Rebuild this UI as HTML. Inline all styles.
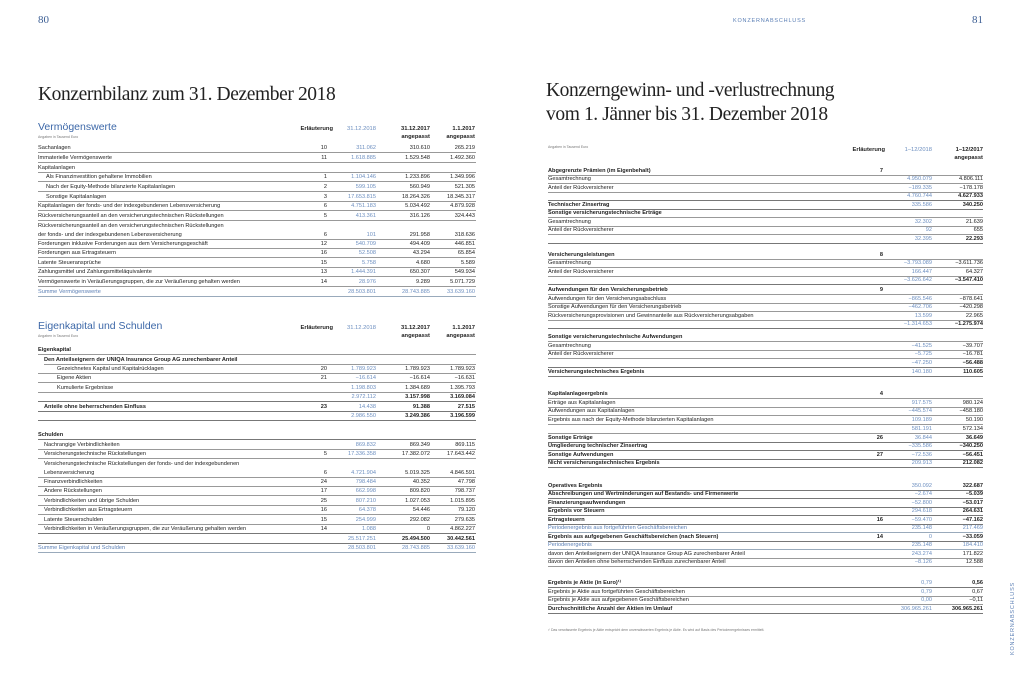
<!DOCTYPE html>
<html><head><meta charset="utf-8">
<style>
*{margin:0;padding:0;box-sizing:border-box}
body{width:1024px;height:686px;background:#fff;position:relative;overflow:hidden;font-family:"Liberation Sans",sans-serif;color:#222}
.abs{position:absolute;white-space:nowrap}
.pn{font-family:"Liberation Serif",serif;font-size:11px;color:#3d5f94}
.ttl{font-family:"Liberation Serif",serif;font-size:19.5px;color:#222;letter-spacing:-0.4px}
.r{position:absolute;height:9px;line-height:9px;font-size:5.6px;border-bottom:0.6px solid #999;white-space:nowrap}
.L .r{left:38px;width:438px}
.R .r{left:548px;width:435px}
.r span{position:absolute;top:0}
.L .l{left:0}.L .e{right:149px}.L .a{right:100px;color:#6d8fc0}.L .b{right:46px}.L .c{right:1px}
.R .l{left:0}.R .e{right:100px}.R .a{right:51px;color:#6d8fc0}.R .b{right:0}
.bd{font-weight:bold}
.th{border-bottom:1.2px solid #777}
.nb{border-bottom:none}
.i1 .l{left:8px}.i2 .l{left:12px}
.bl .l{color:#5b7fb5}
.bl{border-bottom:1px solid #9ab}
.hd{font-size:5.8px;font-weight:bold;position:absolute;text-align:right;line-height:8px;white-space:nowrap}
.sec{font-size:10.5px;color:#3d68a8;position:absolute}
.sm{font-size:3.5px;color:#777;position:absolute}
</style></head><body>
<div class="abs pn" style="left:38px;top:14px">80</div>
<div class="abs pn" style="left:972px;top:14px">81</div>
<div class="abs" style="left:733px;top:18px;font-size:5.5px;letter-spacing:0.8px;color:#5b7fb5">KONZERNABSCHLUSS</div>
<div class="abs" style="left:1010px;top:655px;transform:rotate(-90deg);transform-origin:0 0;font-size:5.5px;letter-spacing:0.8px;color:#5b7fb5">KONZERNABSCHLUSS</div>
<div class="abs ttl" style="left:38px;top:84px">Konzernbilanz zum 31. Dezember 2018</div>
<div class="abs ttl" style="left:546px;top:80px">Konzerngewinn- und -verlustrechnung</div>
<div class="abs ttl" style="left:546px;top:104px">vom 1. Jänner bis 31. Dezember 2018</div>

<div class="L">
<div class="sec" style="left:38px;top:121px">Vermögenswerte</div>
<div class="sm" style="left:38px;top:135px">Angaben in Tausend Euro</div>
<div class="hd" style="left:290px;top:125px;width:43px">Erläuterung</div>
<div class="hd" style="left:330px;top:125px;width:46px;color:#6d8fc0;font-weight:normal">31.12.2018</div>
<div class="hd" style="left:380px;top:125px;width:50px">31.12.2017<br>angepasst</div>
<div class="hd" style="left:430px;top:125px;width:45px">1.1.2017<br>angepasst</div>
<div class="r th nb" style="top:140px;height:4px"></div>
<div class="r" style="top:144px"><span class="l">Sachanlagen</span><span class="e">10</span><span class="a">311.062</span><span class="b">310.610</span><span class="c">265.219</span></div>
<div class="r" style="top:154px"><span class="l">Immaterielle Vermögenswerte</span><span class="e">11</span><span class="a">1.618.885</span><span class="b">1.529.548</span><span class="c">1.492.360</span></div>
<div class="r" style="top:164px"><span class="l">Kapitalanlagen</span></div>
<div class="r i1" style="top:173px"><span class="l">Als Finanzinvestition gehaltene Immobilien</span><span class="e">1</span><span class="a">1.104.146</span><span class="b">1.233.896</span><span class="c">1.349.996</span></div>
<div class="r i1" style="top:183px"><span class="l">Nach der Equity-Methode bilanzierte Kapitalanlagen</span><span class="e">2</span><span class="a">599.105</span><span class="b">560.949</span><span class="c">521.305</span></div>
<div class="r i1" style="top:193px"><span class="l">Sonstige Kapitalanlagen</span><span class="e">3</span><span class="a">17.653.815</span><span class="b">18.264.326</span><span class="c">18.345.317</span></div>
<div class="r" style="top:202px"><span class="l">Kapitalanlagen der fonds- und der indexgebundenen Lebensversicherung</span><span class="e">6</span><span class="a">4.751.183</span><span class="b">5.034.492</span><span class="c">4.879.928</span></div>
<div class="r" style="top:212px"><span class="l">Rückversicherungsanteil an den versicherungstechnischen Rückstellungen</span><span class="e">5</span><span class="a">413.361</span><span class="b">316.126</span><span class="c">324.443</span></div>
<div class="r" style="top:222px;height:18px"><span class="l" style="line-height:8.5px">Rückversicherungsanteil an den versicherungstechnischen Rückstellungen<br>der fonds- und der indexgebundenen Lebensversicherung</span><span class="e" style="top:9px">6</span><span class="a" style="top:9px">101</span><span class="b" style="top:9px">291.958</span><span class="c" style="top:9px">318.636</span></div>
<div class="r" style="top:240px"><span class="l">Forderungen inklusive Forderungen aus dem Versicherungsgeschäft</span><span class="e">12</span><span class="a">540.709</span><span class="b">494.409</span><span class="c">446.851</span></div>
<div class="r" style="top:249px"><span class="l">Forderungen aus Ertragsteuern</span><span class="e">16</span><span class="a">52.508</span><span class="b">43.294</span><span class="c">65.854</span></div>
<div class="r" style="top:259px"><span class="l">Latente Steueransprüche</span><span class="e">15</span><span class="a">5.758</span><span class="b">4.680</span><span class="c">5.589</span></div>
<div class="r" style="top:268px"><span class="l">Zahlungsmittel und Zahlungsmitteläquivalente</span><span class="e">13</span><span class="a">1.444.391</span><span class="b">650.307</span><span class="c">549.934</span></div>
<div class="r" style="top:278px"><span class="l">Vermögenswerte in Veräußerungsgruppen, die zur Veräußerung gehalten werden</span><span class="e">14</span><span class="a">28.976</span><span class="b">9.289</span><span class="c">5.071.729</span></div>
<div class="r bl" style="top:288px"><span class="l">Summe Vermögenswerte</span><span class="a">28.503.801</span><span class="b" style="color:#6d8fc0">28.743.885</span><span class="c" style="color:#6d8fc0">33.639.160</span></div>

<div class="sec" style="left:38px;top:320px">Eigenkapital und Schulden</div>
<div class="sm" style="left:38px;top:334px">Angaben in Tausend Euro</div>
<div class="hd" style="left:290px;top:324px;width:43px">Erläuterung</div>
<div class="hd" style="left:330px;top:324px;width:46px;color:#6d8fc0;font-weight:normal">31.12.2018</div>
<div class="hd" style="left:380px;top:324px;width:50px">31.12.2017<br>angepasst</div>
<div class="hd" style="left:430px;top:324px;width:45px">1.1.2017<br>angepasst</div>
<div class="r th nb" style="top:338px;height:4px"></div>
<div class="r bd" style="top:346px"><span class="l">Eigenkapital</span></div>
<div class="r bd i2" style="top:356px;left:44px;width:432px"><span class="l" style="left:0">Den Anteilseignern der UNIQA Insurance Group AG zurechenbarer Anteil</span></div>
<div class="r" style="top:365px"><span class="l" style="left:19px">Gezeichnetes Kapital und Kapitalrücklagen</span><span class="e">20</span><span class="a">1.789.923</span><span class="b">1.789.923</span><span class="c">1.789.923</span></div>
<div class="r" style="top:374px"><span class="l" style="left:19px">Eigene Aktien</span><span class="e">21</span><span class="a">−16.614</span><span class="b">−16.614</span><span class="c">−16.631</span></div>
<div class="r" style="top:384px"><span class="l" style="left:19px">Kumulierte Ergebnisse</span><span class="a">1.198.803</span><span class="b">1.384.689</span><span class="c">1.395.793</span></div>
<div class="r bd th" style="top:393px"><span class="a" style="font-weight:normal">2.972.112</span><span class="b">3.157.998</span><span class="c">3.169.084</span></div>
<div class="r bd th" style="top:403px"><span class="l" style="left:6px">Anteile ohne beherrschenden Einfluss</span><span class="e">23</span><span class="a" style="font-weight:normal">14.438</span><span class="b">91.388</span><span class="c">27.515</span></div>
<div class="r bd th" style="top:412px"><span class="a" style="font-weight:normal">2.986.550</span><span class="b">3.249.386</span><span class="c">3.196.599</span></div>
<div class="r bd th" style="top:431px"><span class="l">Schulden</span></div>
<div class="r" style="top:441px"><span class="l" style="left:6px">Nachrangige Verbindlichkeiten</span><span class="a">869.832</span><span class="b">869.349</span><span class="c">869.115</span></div>
<div class="r" style="top:450px"><span class="l" style="left:6px">Versicherungstechnische Rückstellungen</span><span class="e">5</span><span class="a">17.336.358</span><span class="b">17.382.072</span><span class="c">17.643.442</span></div>
<div class="r" style="top:460px;height:18px"><span class="l" style="left:6px;line-height:8.5px">Versicherungstechnische Rückstellungen der fonds- und der indexgebundenen<br>Lebensversicherung</span><span class="e" style="top:9px">6</span><span class="a" style="top:9px">4.721.904</span><span class="b" style="top:9px">5.019.325</span><span class="c" style="top:9px">4.846.591</span></div>
<div class="r" style="top:478px"><span class="l" style="left:6px">Finanzverbindlichkeiten</span><span class="e">24</span><span class="a">798.484</span><span class="b">40.352</span><span class="c">47.798</span></div>
<div class="r" style="top:487px"><span class="l" style="left:6px">Andere Rückstellungen</span><span class="e">17</span><span class="a">662.998</span><span class="b">809.820</span><span class="c">798.737</span></div>
<div class="r" style="top:497px"><span class="l" style="left:6px">Verbindlichkeiten und übrige Schulden</span><span class="e">25</span><span class="a">807.210</span><span class="b">1.027.053</span><span class="c">1.015.895</span></div>
<div class="r" style="top:506px"><span class="l" style="left:6px">Verbindlichkeiten aus Ertragsteuern</span><span class="e">16</span><span class="a">64.378</span><span class="b">54.446</span><span class="c">79.120</span></div>
<div class="r" style="top:516px"><span class="l" style="left:6px">Latente Steuerschulden</span><span class="e">15</span><span class="a">254.999</span><span class="b">292.082</span><span class="c">279.635</span></div>
<div class="r th" style="top:525px"><span class="l" style="left:6px">Verbindlichkeiten in Veräußerungsgruppen, die zur Veräußerung gehalten werden</span><span class="e">14</span><span class="a">1.088</span><span class="b">0</span><span class="c">4.862.227</span></div>
<div class="r bd th" style="top:535px"><span class="a" style="font-weight:normal">25.517.251</span><span class="b">25.494.500</span><span class="c">30.442.561</span></div>
<div class="r bl" style="top:544px"><span class="l">Summe Eigenkapital und Schulden</span><span class="a">28.503.801</span><span class="b" style="color:#6d8fc0">28.743.885</span><span class="c" style="color:#6d8fc0">33.639.160</span></div>
</div>

<div class="R">
<div class="sm" style="left:548px;top:145px">Angaben in Tausend Euro</div>
<div class="hd" style="left:840px;top:146px;width:45px">Erläuterung</div>
<div class="hd" style="left:890px;top:146px;width:42px;color:#6d8fc0;font-weight:normal">1–12/2018</div>
<div class="hd" style="left:938px;top:146px;width:45px">1–12/2017<br>angepasst</div>
<div class="r th nb" style="top:163px;height:3px"></div>
<div class="r bd" style="top:167px"><span class="l">Abgegrenzte Prämien (im Eigenbehalt)</span><span class="e">7</span></div>
<div class="r" style="top:175px"><span class="l">Gesamtrechnung</span><span class="a">4.950.079</span><span class="b">4.806.111</span></div>
<div class="r" style="top:184px"><span class="l">Anteil der Rückversicherer</span><span class="a">−189.335</span><span class="b">−178.178</span></div>
<div class="r bd th" style="top:192px"><span class="a" style="font-weight:normal">4.760.744</span><span class="b">4.627.933</span></div>
<div class="r bd th" style="top:201px"><span class="l">Technischer Zinsertrag</span><span class="a" style="font-weight:normal">335.586</span><span class="b">340.250</span></div>
<div class="r bd" style="top:209px"><span class="l">Sonstige versicherungstechnische Erträge</span></div>
<div class="r" style="top:218px"><span class="l">Gesamtrechnung</span><span class="a">32.302</span><span class="b">21.639</span></div>
<div class="r" style="top:226px"><span class="l">Anteil der Rückversicherer</span><span class="a">92</span><span class="b">655</span></div>
<div class="r bd th" style="top:235px"><span class="a" style="font-weight:normal">32.395</span><span class="b">22.293</span></div>
<div class="r bd" style="top:251px"><span class="l">Versicherungsleistungen</span><span class="e">8</span></div>
<div class="r" style="top:259px"><span class="l">Gesamtrechnung</span><span class="a">−3.793.089</span><span class="b">−3.611.736</span></div>
<div class="r" style="top:268px"><span class="l">Anteil der Rückversicherer</span><span class="a">166.447</span><span class="b">64.327</span></div>
<div class="r bd th" style="top:276px"><span class="a" style="font-weight:normal">−3.626.642</span><span class="b">−3.547.410</span></div>
<div class="r bd" style="top:286px"><span class="l">Aufwendungen für den Versicherungsbetrieb</span><span class="e">9</span></div>
<div class="r" style="top:295px"><span class="l">Aufwendungen für den Versicherungsabschluss</span><span class="a">−865.546</span><span class="b">−878.641</span></div>
<div class="r" style="top:303px"><span class="l">Sonstige Aufwendungen für den Versicherungsbetrieb</span><span class="a">−462.706</span><span class="b">−420.298</span></div>
<div class="r" style="top:312px"><span class="l">Rückversicherungsprovisionen und Gewinnanteile aus Rückversicherungsabgaben</span><span class="a">13.599</span><span class="b">22.965</span></div>
<div class="r bd th" style="top:320px"><span class="a" style="font-weight:normal">−1.314.653</span><span class="b">−1.275.974</span></div>
<div class="r bd" style="top:333px"><span class="l">Sonstige versicherungstechnische Aufwendungen</span></div>
<div class="r" style="top:342px"><span class="l">Gesamtrechnung</span><span class="a">−41.525</span><span class="b">−39.707</span></div>
<div class="r" style="top:350px"><span class="l">Anteil der Rückversicherer</span><span class="a">−5.725</span><span class="b">−16.781</span></div>
<div class="r bd th" style="top:359px"><span class="a" style="font-weight:normal">−47.250</span><span class="b">−56.488</span></div>
<div class="r bd th" style="top:368px"><span class="l">Versicherungstechnisches Ergebnis</span><span class="a" style="font-weight:normal">140.180</span><span class="b">110.605</span></div>
<div class="r th nb" style="top:384px;height:3px"></div>
<div class="r bd" style="top:390px"><span class="l">Kapitalanlageergebnis</span><span class="e">4</span></div>
<div class="r" style="top:399px"><span class="l">Erträge aus Kapitalanlagen</span><span class="a">917.575</span><span class="b">980.124</span></div>
<div class="r" style="top:407px"><span class="l">Aufwendungen aus Kapitalanlagen</span><span class="a">−445.574</span><span class="b">−458.180</span></div>
<div class="r" style="top:416px"><span class="l">Ergebnis aus nach der Equity-Methode bilanzierten Kapitalanlagen</span><span class="a">109.189</span><span class="b">50.190</span></div>
<div class="r" style="top:425px"><span class="a">581.191</span><span class="b">572.134</span></div>
<div class="r bd th" style="top:434px"><span class="l">Sonstige Erträge</span><span class="e">26</span><span class="a" style="font-weight:normal">36.844</span><span class="b">36.649</span></div>
<div class="r bd th" style="top:442px"><span class="l">Umgliederung technischer Zinsertrag</span><span class="a" style="font-weight:normal">−335.586</span><span class="b">−340.250</span></div>
<div class="r bd th" style="top:451px"><span class="l">Sonstige Aufwendungen</span><span class="e">27</span><span class="a" style="font-weight:normal">−72.536</span><span class="b">−56.451</span></div>
<div class="r bd th" style="top:459px"><span class="l">Nicht versicherungstechnisches Ergebnis</span><span class="a" style="font-weight:normal">209.913</span><span class="b">212.082</span></div>
<div class="r th nb" style="top:476px;height:3px"></div>
<div class="r bd th" style="top:482px"><span class="l">Operatives Ergebnis</span><span class="a" style="font-weight:normal">350.092</span><span class="b">322.687</span></div>
<div class="r bd th" style="top:490px"><span class="l">Abschreibungen und Wertminderungen auf Bestands- und Firmenwerte</span><span class="a" style="font-weight:normal">−2.674</span><span class="b">−5.039</span></div>
<div class="r bd th" style="top:499px"><span class="l">Finanzierungsaufwendungen</span><span class="a" style="font-weight:normal">−52.800</span><span class="b">−53.017</span></div>
<div class="r bd th" style="top:507px"><span class="l">Ergebnis vor Steuern</span><span class="a" style="font-weight:normal">294.618</span><span class="b">264.631</span></div>
<div class="r bd th" style="top:516px"><span class="l">Ertragsteuern</span><span class="e">16</span><span class="a" style="font-weight:normal">−59.470</span><span class="b">−47.162</span></div>
<div class="r bl" style="top:524px"><span class="l">Periodenergebnis aus fortgeführten Geschäftsbereichen</span><span class="a">235.148</span><span class="b" style="color:#6d8fc0">217.469</span></div>
<div class="r bd th" style="top:533px"><span class="l">Ergebnis aus aufgegebenen Geschäftsbereichen (nach Steuern)</span><span class="e">14</span><span class="a" style="font-weight:normal">0</span><span class="b">−33.059</span></div>
<div class="r bl" style="top:541px"><span class="l">Periodenergebnis</span><span class="a">235.148</span><span class="b" style="color:#6d8fc0">184.410</span></div>
<div class="r" style="top:550px"><span class="l">davon den Anteilseignern der UNIQA Insurance Group AG zurechenbarer Anteil</span><span class="a">243.274</span><span class="b">171.822</span></div>
<div class="r" style="top:558px"><span class="l">davon den Anteilen ohne beherrschenden Einfluss zurechenbarer Anteil</span><span class="a">−8.126</span><span class="b">12.588</span></div>
<div class="r th nb" style="top:573px;height:3px"></div>
<div class="r bd th" style="top:579px"><span class="l">Ergebnis je Aktie (in Euro)¹⁾</span><span class="a" style="font-weight:normal">0,79</span><span class="b">0,56</span></div>
<div class="r" style="top:588px"><span class="l">Ergebnis je Aktie aus fortgeführten Geschäftsbereichen</span><span class="a">0,79</span><span class="b">0,67</span></div>
<div class="r" style="top:596px"><span class="l">Ergebnis je Aktie aus aufgegebenen Geschäftsbereichen</span><span class="a">0,00</span><span class="b">−0,11</span></div>
<div class="r bd th" style="top:605px"><span class="l">Durchschnittliche Anzahl der Aktien im Umlauf</span><span class="a" style="font-weight:normal">306.965.261</span><span class="b">306.965.261</span></div>
<div class="sm" style="left:548px;top:628px">¹⁾ Das verwässerte Ergebnis je Aktie entspricht dem unverwässerten Ergebnis je Aktie. Es wird auf Basis des Periodenergebnisses ermittelt.</div>
</div>
</body></html>
